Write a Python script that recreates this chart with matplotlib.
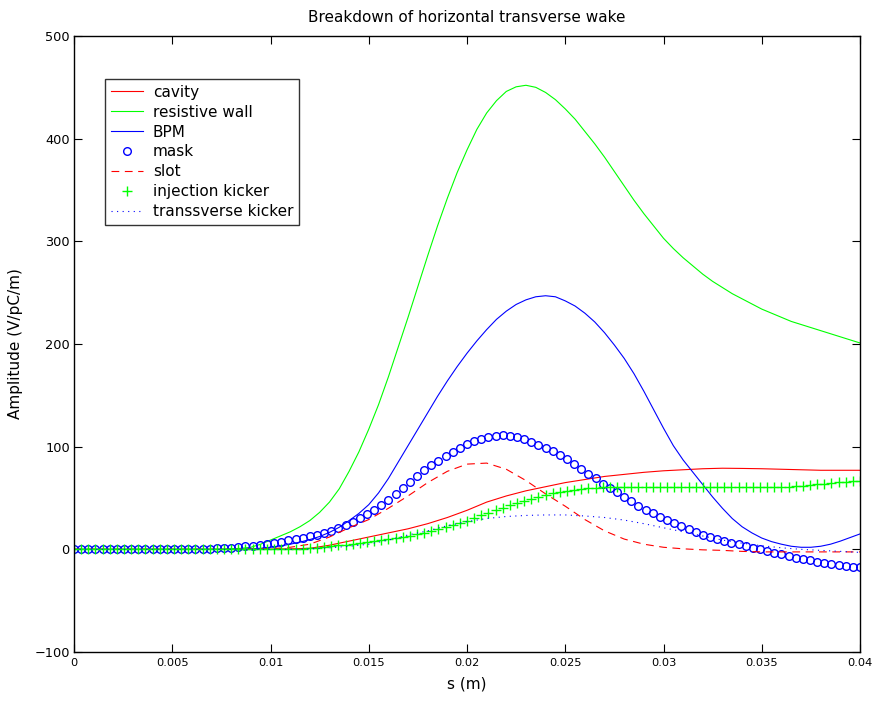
import numpy as np
import matplotlib
matplotlib.use("Agg")
import matplotlib.pyplot as plt

# ---- data ----
s_line = [i * 0.001 for i in range(41)]      # 1 mm grid
s_fine = [i * 0.0005 for i in range(81)]     # 0.5 mm grid

cavity = [0, 0, 0, 0, 0, 0, 0, 0, 0, 0, 0.2, 0.5, 1, 4, 8, 12, 16, 20, 25, 31,
          38, 46, 52, 57, 61, 65, 68, 71, 73, 75, 76.5, 77.5, 78.5, 79, 78.8,
          78.5, 78, 77.5, 77, 77, 77]

resistive_wall = [0, 0, 0, 0, 0, 0, 0, 0, 0, 0, 0, 0, 0, 0, 0, 0,
                  0.5, 1, 2, 5, 9, 13, 17, 22, 28, 36, 46, 59, 76, 95, 117,
                  141, 168, 197, 226, 256, 286, 315, 342, 367, 389, 409, 425,
                  437, 446, 450.5, 452, 450, 445, 438, 429, 419, 407, 395, 382,
                  368, 354, 340, 327, 315, 303, 293, 284, 276, 268, 261, 255,
                  249, 244, 239, 234, 230, 226, 222, 219, 216, 213, 210, 207,
                  204, 201]

bpm = [0, 0, 0, 0, 0, 0, 0, 0, 0, 0, 0, 0, 0, 0, 0, 0, 0, 0,
       0.3, 1, 2, 3.3, 5, 7, 9.5, 12.5, 16.5, 21.5, 28, 35, 43.5, 55, 69, 85,
       101, 117, 133, 149, 164, 178, 191, 203, 214, 224, 232, 238.5, 243, 246,
       247, 246, 242, 237, 230, 221.5, 211, 199, 186, 171, 154, 136, 118, 101,
       87, 75, 63, 51, 40, 30, 22, 16, 11, 7.5, 5, 3, 2, 2, 3, 5, 8, 11.5, 15]

slot = [0, 0, 0, 0, 0, 0, 0, 0, 0, 0.2, 0.5, 2, 5, 12, 21, 29, 40, 52, 65, 76,
        83, 84, 78, 67, 54, 42, 29, 18, 10, 5, 2, 0.5, -0.5, -1, -2, -2.5,
        -2.5, -2.5, -2.5, -2.5, -2.5]

transverse_kicker = [0, 0, 0, 0, 0, 0, 0, 0, 0, 0, 0, 0, 0.5, 1.5, 3, 5, 9, 14,
                     18, 23, 27, 30, 32, 33, 33.5, 33.5, 32.5, 31, 28.5, 25,
                     21, 17, 13, 9, 6, 3.5, 1.5, 0, -1, -2, -3]

s_mark = np.linspace(0, 0.04, 111)

mask = [0, 0, 0, 0, 0, 0, 0, 0, 0, 0, 0, 0, 0, 0, 0, 0, 0,
        0.1, 0.3, 0.5, 0.9, 1.2, 1.5, 2.2, 3.0, 3.7, 4.5, 5.5, 6.5, 7.6, 8.7,
        10, 11.5, 13, 14.4, 16, 17.7, 20.5, 23.5, 26.8, 30.5, 34, 38.5, 43, 48,
        54, 60, 65.5, 71, 77, 82, 86.5, 91, 95, 99, 103, 105.5, 107.5, 109.3,
        110.3, 111, 110.7, 109.5, 107.5, 105, 102, 99, 95.5, 91.7, 88, 83,
        78.5, 73.5, 69, 64, 60, 55.5, 51, 46.7, 42.3, 38, 35, 31.5, 28.5, 25.5,
        22.7, 20, 17, 14, 12, 10, 8, 6.5, 5, 3.5, 1.5, 0, -1.5, -3.3, -5, -6.5,
        -8, -9.5, -10.7, -12, -13.3, -14.5, -15.5, -16.3, -17, -17.5]

injection_kicker = [0] * 28 + [
    0.1, 0.2, 0.3, 0.5, 0.8, 1.0, 1.7, 2.4, 3.2, 3.9, 4.6, 5.5, 6.4, 7.3, 8.2,
    9.1, 10, 11, 12.2, 13.3, 14.8, 16.3, 17.9, 19.7, 21.5, 23.6, 25.8, 28,
    30.5, 33, 35.6, 38.2, 40.7, 43.1, 45.3, 47.4, 49.4, 51.2, 53, 54.5, 56,
    57.2, 58.1, 59, 59.7, 60.1, 60.5, 60.7, 60.9] + [61] * 23 + [
    61.2, 61.6, 62.1, 62.6, 63.2, 63.9, 64.6, 65.3, 65.9, 66.5, 67]

labels = ["cavity", "resistive wall", "BPM", "mask", "slot",
          "injection kicker", "transsverse kicker"]
xticks = [0, 0.005, 0.01, 0.015, 0.02, 0.025, 0.03, 0.035, 0.04]
xticklabels = ["0", "0.005", "0.01", "0.015", "0.02", "0.025", "0.03", "0.035", "0.04"]
yticks = [-100, 0, 100, 200, 300, 400, 500]

# ---- figure ----
plt.rcParams['font.family'] = ['DejaVu Sans']
fig = plt.figure(figsize=(8.72, 7.01), dpi=100)
ax = fig.add_axes([74 / 872, 1 - 652 / 701, 786 / 872, 616 / 701])

lw = 0.8
ax.plot(s_line, cavity, color='#ff0000', lw=lw, label=labels[0])
ax.plot(s_fine, resistive_wall, color='#00ff00', lw=lw, label=labels[1])
ax.plot(s_fine, bpm, color='#0000ff', lw=lw, label=labels[2])
ax.plot(s_mark, mask, linestyle='none', marker='o', markersize=5.5,
        markerfacecolor='none', markeredgecolor='#0000ff', markeredgewidth=1.0,
        label=labels[3])
ax.plot(s_line, slot, color='#ff0000', lw=lw, linestyle=(0, (7, 5)), label=labels[4])
ax.plot(s_mark, injection_kicker, linestyle='none', marker='+', markersize=7,
        markeredgecolor='#00ff00', markeredgewidth=1.0, label=labels[5])
ax.plot(s_line, transverse_kicker, color='#0000ff', lw=lw, linestyle=(0, (1, 4)),
        label=labels[6])

ax.set_xlim(0, 0.04)
ax.set_ylim(-100, 500)
ax.set_xticks(xticks)
ax.set_xticklabels(xticklabels)
ax.set_yticks(yticks)
ax.tick_params(direction='in', length=6, width=0.8, top=True, right=True)
ax.tick_params(axis='x', pad=4.5, labelsize=8.2)
ax.tick_params(axis='y', pad=3, labelsize=9.3)
for sp in ax.spines.values():
    sp.set_linewidth(1.0)

ax.set_title("Breakdown of horizontal transverse wake", fontsize=11, pad=10)
ax.set_xlabel("s (m)", fontsize=11, labelpad=6)
ax.set_ylabel("Amplitude (V/pC/m)", fontsize=11, labelpad=8)

leg = ax.legend(loc='upper left', bbox_to_anchor=(31 / 786, 1 - 43 / 616),
                fontsize=11, frameon=True, fancybox=False, shadow=False,
                borderaxespad=0, handlelength=2.1, handletextpad=0.65,
                labelspacing=0.32, borderpad=0.38)
leg.get_frame().set_edgecolor('black')
leg.get_frame().set_linewidth(1.0)

fig.savefig("out.png", dpi=100)
